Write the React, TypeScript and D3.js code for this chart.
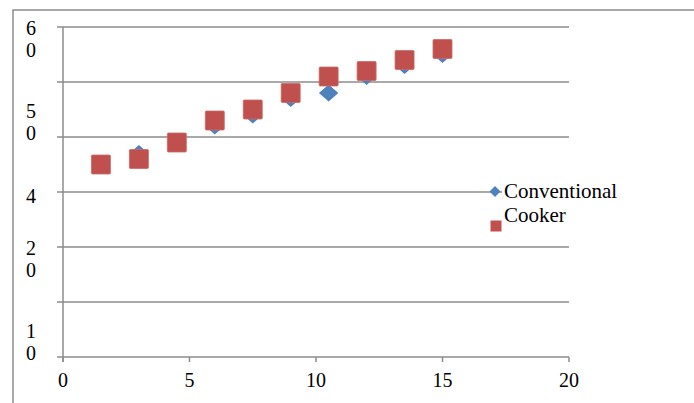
import React from "react";
import * as d3 from "d3";

const xValues = [1.5, 3, 4.5, 6, 7.5, 9, 10.5, 12, 13.5, 15];
const conventional = [35, 37, 39, 42, 44, 47, 48, 51, 53, 55];
const cooker = [35, 36, 39, 43, 45, 48, 51, 52, 54, 56];
const xTicks = [0, 5, 10, 15, 20];
const yGrid = [0, 10, 20, 30, 40, 50, 60];
const yTickLabels = ["60", "50", "4", "20", "10"];
const yLabelAt = [58.5, 43.5, 28, 18.5, 3.5];
const seriesNames = ["Conventional", "Cooker"];

const W = 694;
const H = 403;
const BLUE = "#4F81BD";
const RED = "#C0504D";
const GRID = "#8c8c8c";
const FONT = "'Liberation Serif', 'Times New Roman', serif";

export default function App() {
  const x = d3.scaleLinear().domain([0, 20]).range([63, 569]);
  const y = d3.scaleLinear().domain([0, 60]).range([357, 27]);
  const diamond = (cx: number, cy: number, hw: number, hh: number) =>
    `M${cx},${cy - hh}L${cx + hw},${cy}L${cx},${cy + hh}L${cx - hw},${cy}Z`;
  const sq = 19;
  return (
    <svg
      width={W}
      height={H}
      style={{ position: "absolute", left: 0, top: 0, background: "#fff" }}
      fontFamily={FONT}
    >
      <rect x={0} y={0} width={W} height={H} fill="#fff" />
      <rect x={13} y={10} width={W + 20} height={H + 20} fill="none" stroke={GRID} strokeWidth={1.5} />
      {yGrid.map((v) => (
        <line key={v} x1={57} x2={x(20)} y1={y(v)} y2={y(v)} stroke={GRID} strokeWidth={1.5} />
      ))}
      <line x1={x(0)} x2={x(0)} y1={y(60)} y2={y(0) + 5} stroke={GRID} strokeWidth={1.5} />
      {xTicks.map((t) => (
        <g key={t}>
          <line x1={x(t)} x2={x(t)} y1={y(0)} y2={y(0) + 5} stroke={GRID} strokeWidth={1.5} />
          <text x={x(t)} y={387} fontSize={20} textAnchor="middle" fill="#000">
            {t}
          </text>
        </g>
      ))}
      {yTickLabels.map((lab, i) => (
        <text key={i} x={31} y={y(yLabelAt[i])} fontSize={20} textAnchor="middle" fill="#000">
          {lab.split("").map((c, j) => (
            <tspan key={j} x={31} dy={j === 0 ? 0 : 22}>
              {c}
            </tspan>
          ))}
        </text>
      ))}
      {xValues.map((xv, i) => (
        <path key={"c" + i} d={diamond(x(xv), y(conventional[i]), 9.7, 8.5)} fill={BLUE} />
      ))}
      {xValues.map((xv, i) => (
        <rect
          key={"k" + i}
          x={x(xv) - sq / 2}
          y={y(cooker[i]) - sq / 2}
          width={sq}
          height={sq}
          fill={RED}
          stroke="#c96a67"
          strokeWidth={0.8}
          rx={1}
        />
      ))}
      <rect x={502} y={180} width={125} height={56} fill="#fff" />
      <path d={diamond(495, 191.5, 5.5, 5.5)} fill={BLUE} />
      <rect x={490.5} y={220.5} width={11} height={11} fill={RED} />
      <text x={504} y={198} fontSize={21} fill="#000">
        {seriesNames[0]}
      </text>
      <text x={504} y={222} fontSize={21} fill="#000">
        {seriesNames[1]}
      </text>
    </svg>
  );
}
